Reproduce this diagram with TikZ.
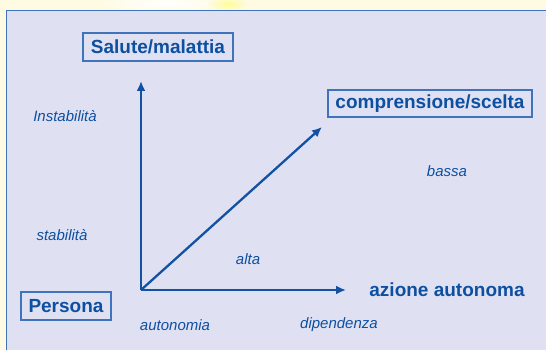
\documentclass[tikz,border=0pt]{standalone}
\usepackage{fontspec}
\setmainfont{Liberation Sans}
\usetikzlibrary{arrows.meta}
\definecolor{bgyellow}{HTML}{FEFBE2}
\definecolor{panel}{HTML}{DFE1F2}
\definecolor{frameblue}{HTML}{3F74BC}
\definecolor{txtblue}{HTML}{0D4FA0}
\definecolor{arrblue}{HTML}{1352A2}
\tikzset{
  boxlabel/.style={draw=frameblue, line width=1.1pt, inner sep=0pt, text=txtblue, font=\fontsize{19}{21}\selectfont\bfseries},
  boldlabel/.style={text=txtblue, inner sep=0pt, font=\fontsize{19}{21}\selectfont\bfseries},
  itlabel/.style={text=txtblue, inner sep=0pt, font=\fontsize{15}{17}\selectfont\itshape},
  axis/.style={draw=arrblue, line width=2.3pt, -{Latex[length=10pt,width=9pt]}}
}
\begin{document}
\begin{tikzpicture}[x=1pt,y=-1pt]
\useasboundingbox (0,0) rectangle (546,350);
\fill[bgyellow] (0,0) rectangle (546,350);
\shade[inner color=white, outer color=bgyellow] (165,3) ellipse (70pt and 9pt);
\shade[inner color=yellow!35!bgyellow, outer color=bgyellow] (228,4) ellipse (20pt and 7pt);
\fill[panel] (6.5,10.5) rectangle (560,360);
\draw[frameblue, line width=1.5pt] (6.5,360) -- (6.5,10.5) -- (560,10.5);

\node[boxlabel, minimum width=150pt, minimum height=28pt] (salute) at (158,47) {Salute/malattia};
\node[boxlabel, minimum width=204pt, minimum height=27pt] (compr) at (430,103.5) {comprensione/scelta};
\node[boxlabel, minimum width=90pt, minimum height=28pt] (persona) at (66,306) {Persona};
\node[boldlabel] (azione) at (447,290) {azione autonoma};

\coordinate (o) at (141,290);
\coordinate (top) at (141,81);
\coordinate (right) at (346,290);
\coordinate (diag) at (322,127);
\draw[axis] (o) -- (top);
\draw[axis] (o) -- (right);
\draw[axis] (o) -- (diag);

\node[itlabel] (instab) at (65,116) {Instabilità};
\node[itlabel] (stab) at (62,235) {stabilità};
\node[itlabel] (bassa) at (447,171) {bassa};
\node[itlabel] (alta) at (248,259) {alta};
\node[itlabel] (auton) at (175,325) {autonomia};
\node[itlabel] (dipend) at (339,325) {dipendenza};
\end{tikzpicture}
\end{document}
